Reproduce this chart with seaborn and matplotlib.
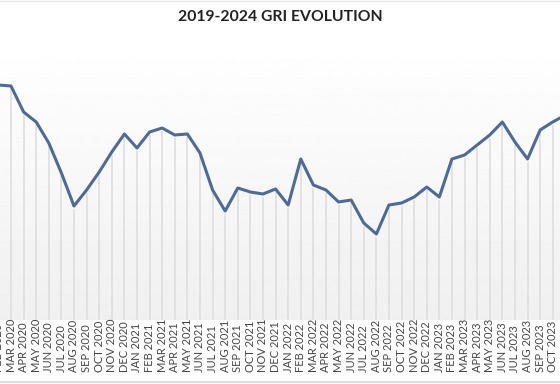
import numpy as np
import pandas as pd
import matplotlib.pyplot as plt
from matplotlib.lines import Line2D
import seaborn as sns

# Monthly GRI values
months = ["FEB 2020", "MAR 2020", "APR 2020", "MAY 2020", "JUN 2020", "JUL 2020",
          "AUG 2020", "SEP 2020", "OCT 2020", "NOV 2020", "DEC 2020", "JAN 2021",
          "FEB 2021", "MAR 2021", "APR 2021", "MAY 2021", "JUN 2021", "JUL 2021",
          "AUG 2021", "SEP 2021", "OCT 2021", "NOV 2021", "DEC 2021", "JAN 2022",
          "FEB 2022", "MAR 2022", "APR 2022", "MAY 2022", "JUN 2022", "JUL 2022",
          "AUG 2022", "SEP 2022", "OCT 2022", "NOV 2022", "DEC 2022", "JAN 2023",
          "FEB 2023", "MAR 2023", "APR 2023", "MAY 2023", "JUN 2023", "JUL 2023",
          "AUG 2023", "SEP 2023", "OCT 2023", "NOV 2023"]
gri = [117.5, 117, 104, 99, 88.5, 73.5, 57, 65, 74, 84, 93, 86,
       94, 96, 92.5, 93, 83.5, 65, 54.5, 66, 64, 63, 65.5, 57.5,
       80.5, 67.5, 65, 59, 60, 48.5, 43, 57.5, 58.5, 61.5, 66.5, 61.5,
       80.5, 82.5, 87.5, 92.5, 99, 89, 80.5, 95, 99, 102.5]

df = pd.DataFrame({"pos": np.arange(len(months)), "month": months, "gri": gri})

sns.set_theme(style="white")
plt.rcParams["font.family"] = ["Lato", "DejaVu Sans"]

fig = plt.figure(figsize=(5.6, 3.84), dpi=100)
ax = fig.add_axes([-10 / 560, 64 / 384, 580 / 560, 280 / 384])

ax.set_xlim(-0.667, 45.37)
ax.set_ylim(0, 140)

# soft vertical gradient behind the chart
grad = np.linspace(1.0, 0.94, 256).reshape(-1, 1)
ax.imshow(grad, cmap="gray", vmin=0, vmax=1, aspect="auto",
          extent=[-0.667, 45.37, 0, 140], origin="upper", zorder=0)

# drop lines under each month
ax.vlines(df["pos"], 0, df["gri"] - 1.5, color="#e0e0e0", lw=1.3, zorder=1)

sns.lineplot(data=df, x="pos", y="gri", ax=ax, color="#4e6b97", lw=2.2,
             zorder=3)
for l in ax.lines:
    l.set_solid_joinstyle("round")
    l.set_solid_capstyle("round")

ax.set_xticks(df["pos"])
ax.set_xticklabels(df["month"], rotation=90, va="bottom", ha="center",
                   fontsize=8, color="#444444")
ax.tick_params(axis="x", length=0, pad=37.5)
ax.set_yticks([])
ax.set_xlabel("")
ax.set_ylabel("")
for s in ax.spines.values():
    s.set_visible(False)

fig.text(0.5, 1 - 17 / 384, "2019-2024 GRI EVOLUTION", ha="center",
         va="center", fontsize=11.3, fontweight="bold", color="#222222")

fig.add_artist(Line2D([0, 1], [2 / 384, 2 / 384], color="#dddddd", lw=1.5))
fig.add_artist(Line2D([0, 1], [383.5 / 384, 383.5 / 384], color="#e4e4e4", lw=1))

fig.savefig("out.png", dpi=100)
